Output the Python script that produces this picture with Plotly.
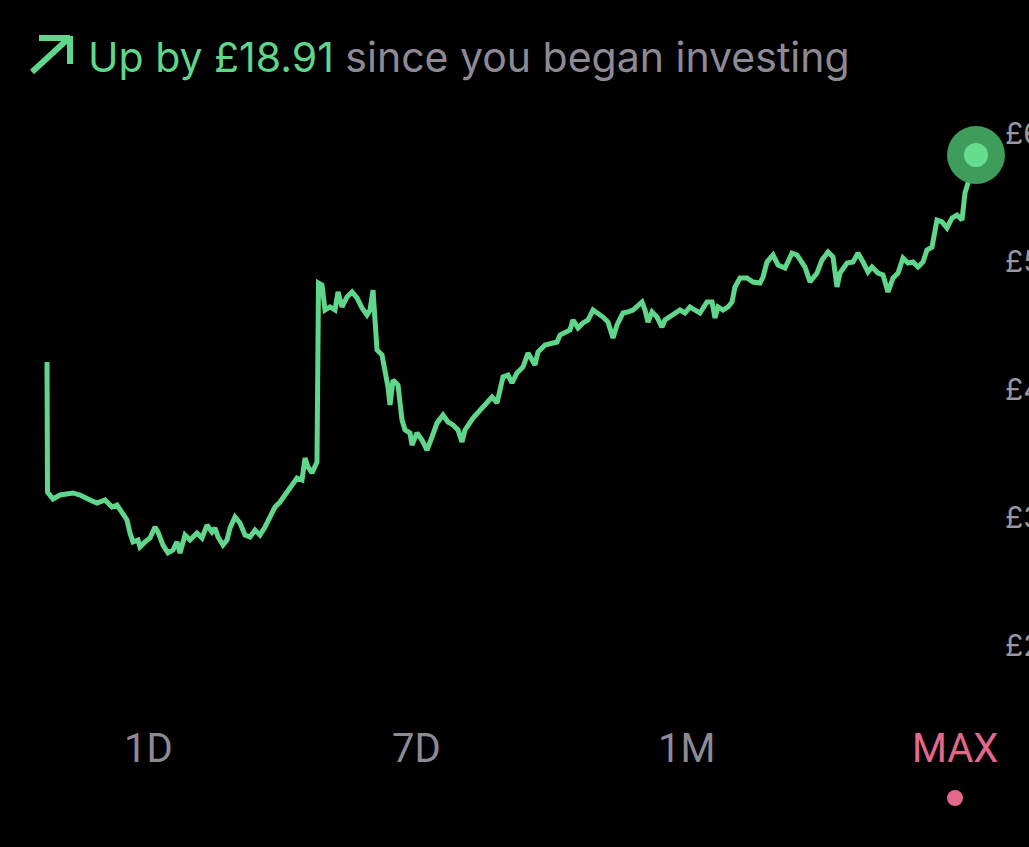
import plotly.graph_objects as go

# ---- data ----
days = [0, 0.1, 1.2, 2.6, 5.2, 6.6, 8.6, 10, 11.6, 13, 14, 15, 16, 16.6, 17.2, 18.2, 18.6, 19.6, 20.6, 21.6,
        22.2, 23.2, 24.2, 25.2, 26, 26.6, 27.6, 28.6, 30, 31, 32, 33, 33.6, 34.2, 35.2, 36, 36.6, 37.6, 38.6,
        39.6, 40.6, 41.6, 42.6, 43.6, 44.6, 45.6, 46.6, 47.6, 48.6, 50, 51, 51.6, 52.2, 53, 54, 54.3, 55,
        55.6, 56.6, 57.6, 58.2, 59, 60, 61, 62, 63, 64, 64.6, 65.2, 65.6, 66, 67, 67.6, 68.2, 68.6, 69.2,
        70.2, 71, 71.6, 72.6, 73, 74, 75, 76, 77, 78, 79.2, 80.2, 81.2, 82.2, 83, 83.6, 85.2, 86.6, 88, 89,
        90, 91.2, 92.2, 93, 94, 95.2, 96.2, 97.6, 98.2, 99.6, 101.2, 102, 102.6, 103.6, 104.6, 105.2, 106.2,
        107.2, 108.2, 109.2, 110.2, 111.2, 112.2, 113.2, 114, 115.2, 116.2, 117.2, 119, 119.6, 120.2, 121,
        122, 123, 123.6, 125, 126.6, 127.6, 128.6, 129.6, 130.6, 132, 133, 133.6, 134.2, 135.2, 136.2, 137,
        137.6, 138.6, 140, 141.2, 142.6, 143.2, 144, 145.2, 146.2, 147.6, 149, 150, 151, 151.6, 152.6, 154,
        155, 156.2, 157.2, 158, 158.6, 160, 161.2, 162.2, 163.2, 164.2, 165, 166.2, 167.2, 168.2, 169.2,
        170.2, 171.2, 172.2, 173.2, 174.2, 175.2, 176, 177, 178, 179, 180, 181, 182, 183, 183.6, 184.2,
        184.6, 185.2, 185.8]

values = [42.11, 31.95, 31.41, 31.72, 31.88, 31.72, 31.33, 31.09, 31.33, 30.78, 30.94, 30.31, 29.77, 28.75,
          28.05, 28.20, 27.66, 28.05, 28.36, 29.22, 28.83, 27.81, 27.19, 27.42, 28.05, 27.19, 28.59, 28.20,
          28.75, 28.36, 29.37, 28.83, 29.14, 28.44, 27.81, 28.20, 29.14, 30.00, 29.53, 28.59, 28.44, 28.98,
          28.59, 29.22, 29.92, 30.78, 31.17, 31.72, 32.34, 33.05, 32.89, 34.61, 33.91, 33.44, 34.30, 48.28,
          48.12, 46.17, 46.41, 46.17, 47.58, 46.41, 47.19, 47.58, 47.11, 46.33, 45.78, 46.17, 47.73, 45.39,
          43.05, 42.66, 41.48, 40.16, 38.75, 40.70, 40.31, 37.58, 36.80, 36.56, 35.62, 36.56, 36.02, 35.23,
          36.25, 37.34, 37.97, 37.42, 37.19, 36.80, 35.86, 36.80, 37.73, 38.36, 38.91, 39.37, 38.91, 40.94,
          41.09, 40.47, 41.25, 41.72, 42.81, 41.87, 42.89, 43.44, 43.59, 43.67, 44.22, 44.37, 44.61, 45.39,
          44.77, 45.16, 45.39, 46.17, 45.94, 45.62, 45.23, 43.98, 45.00, 45.94, 46.02, 46.17, 46.80, 46.17,
          45.23, 46.02, 45.62, 44.84, 45.39, 45.78, 46.17, 45.94, 46.41, 46.17, 45.94, 46.80, 46.80, 45.55,
          46.41, 46.17, 46.41, 46.80, 47.97, 48.67, 48.67, 48.36, 48.28, 48.75, 49.92, 50.47, 49.69, 49.45,
          50.62, 50.47, 49.84, 49.53, 48.36, 49.06, 50.08, 50.70, 50.31, 47.97, 49.06, 49.84, 49.92, 50.62,
          49.92, 49.14, 49.53, 49.06, 48.91, 47.58, 48.67, 49.06, 50.23, 49.84, 49.92, 49.53, 49.92, 50.86,
          51.09, 53.20, 53.05, 52.58, 53.36, 53.59, 53.20, 55.31, 56.09, 56.87, 57.34, 58.28]

tick_values = [20, 30, 40, 50, 60]
tick_labels = ["£20", "£30", "£40", "£50", "£60"]
tab_labels = ["1D", "7D", "1M", "MAX"]
gain_text = "Up by £18.91"
rest_text = " since you began investing"

GREEN = "#5fd68a"
GRAY = "#8d8a95"
PINK = "#e3688a"

W, H = 1029, 847
L, R, T, B = 0, 25, 100, 150
PW, PH = W - L - R, H - T - B


def px(x):
    return (x - L) / PW


def py(y):
    return (H - B - y) / PH


fig = go.Figure()
fig.add_trace(go.Scatter(x=days, y=values, mode="lines",
                         line=dict(color=GREEN, width=5, shape="linear"),
                         hoverinfo="skip", showlegend=False))
fig.add_trace(go.Scatter(x=[days[-1]], y=[values[-1]], mode="markers",
                         marker=dict(size=58, color="#3f9d5c", line=dict(width=0)),
                         hoverinfo="skip", showlegend=False, cliponaxis=False))
fig.add_trace(go.Scatter(x=[days[-1]], y=[values[-1]], mode="markers",
                         marker=dict(size=24, color="#66dc8f", line=dict(width=0)),
                         hoverinfo="skip", showlegend=False, cliponaxis=False))

x0 = days[0] - 47 / 5
x1 = x0 + PW / 5
y_lo = 60 - (H - B - 133) / 12.8
y_hi = 60 + (133 - T) / 12.8

annotations = [
    dict(x=px(86), y=py(57), xref="paper", yref="paper", xanchor="left", yanchor="middle",
         showarrow=False,
         text=f"<span style='color:{GREEN}'>{gain_text}</span><span style='color:{GRAY}'>{rest_text}</span>",
         font=dict(family="Inter", size=41, color=GRAY)),
]
tab_x = [148, 416, 686, 955]
for i, lab in enumerate(tab_labels):
    annotations.append(dict(x=px(tab_x[i]), y=py(748), xref="paper", yref="paper",
                            xanchor="center", yanchor="middle", showarrow=False, text=lab,
                            font=dict(family="Roboto", size=40,
                                      color=PINK if lab == "MAX" else GRAY)))

shapes = [
    dict(type="line", xref="paper", yref="paper", x0=px(32), y0=py(72), x1=px(69), y1=py(38),
         line=dict(color=GREEN, width=6)),
    dict(type="line", xref="paper", yref="paper", x0=px(39), y0=py(38), x1=px(70), y1=py(38),
         line=dict(color=GREEN, width=6)),
    dict(type="line", xref="paper", yref="paper", x0=px(70), y0=py(36), x1=px(70), y1=py(64),
         line=dict(color=GREEN, width=6)),
    dict(type="circle", xref="paper", yref="paper", x0=px(947), x1=px(963), y0=py(790), y1=py(806),
         fillcolor=PINK, line=dict(width=0)),
]

fig.update_layout(
    width=W, height=H, autosize=False,
    paper_bgcolor="black", plot_bgcolor="black",
    margin=dict(l=L, r=R, t=T, b=B, pad=0),
    showlegend=False,
    xaxis=dict(range=[x0, x1], visible=False, fixedrange=True),
    yaxis=dict(range=[y_lo, y_hi], side="right", tickvals=tick_values, ticktext=tick_labels,
               showgrid=False, zeroline=False, showline=False, ticks="", automargin=False,
               tickfont=dict(family="Inter", size=30, color="#9a97a1"), fixedrange=True),
    annotations=annotations,
    shapes=shapes,
)

fig.write_html("out.html", config={"displayModeBar": False},
               post_script="document.body.style.margin='0';document.body.style.overflow='hidden';")
